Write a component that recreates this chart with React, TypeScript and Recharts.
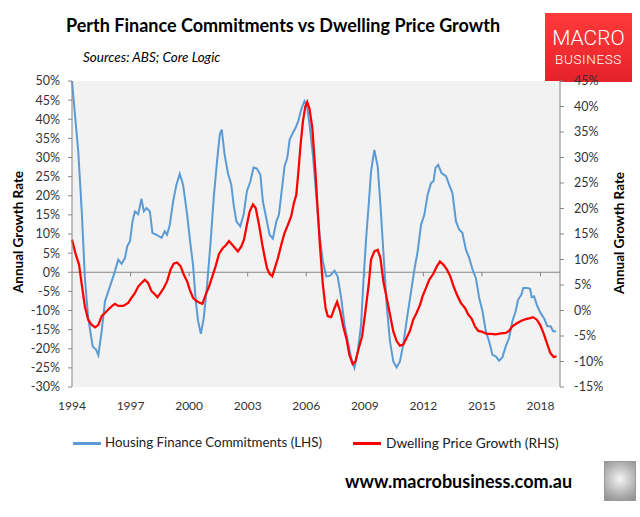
import React from 'react';
import { LineChart, Line, XAxis, YAxis, ReferenceLine, ReferenceArea } from 'recharts';

// Housing finance commitments, annual growth % (left axis)
const financeYears = [
  1994.0, 1994.32, 1994.5, 1994.66, 1994.83, 1995.06, 1995.23, 1995.35, 1995.52, 1995.69, 1995.86,
  1996.03, 1996.2, 1996.37, 1996.54, 1996.71, 1996.83, 1996.97, 1997.1, 1997.22, 1997.39, 1997.56,
  1997.68, 1997.82, 1997.99, 1998.12, 1998.33, 1998.59, 1998.75, 1998.87, 1999.01, 1999.18, 1999.35,
  1999.52, 1999.69, 1999.9, 2000.07, 2000.2, 2000.34, 2000.46, 2000.6, 2000.75, 2000.92, 2001.09,
  2001.26, 2001.43, 2001.57, 2001.67, 2001.82, 2001.99, 2002.16, 2002.28, 2002.42, 2002.62, 2002.79,
  2002.96, 2003.14, 2003.3, 2003.47, 2003.65, 2003.78, 2003.95, 2004.12, 2004.29, 2004.47, 2004.6,
  2004.72, 2004.89, 2005.03, 2005.15, 2005.31, 2005.45, 2005.59, 2005.74, 2005.91, 2006.03, 2006.17,
  2006.34, 2006.51, 2006.68, 2006.85, 2007.02, 2007.23, 2007.45, 2007.61, 2007.79, 2007.96, 2008.13,
  2008.3, 2008.47, 2008.64, 2008.81, 2008.94, 2009.07, 2009.2, 2009.32, 2009.49, 2009.66, 2009.8,
  2009.95, 2010.12, 2010.29, 2010.46, 2010.63, 2010.8, 2010.97, 2011.14, 2011.32, 2011.54, 2011.71,
  2011.88, 2012.05, 2012.22, 2012.39, 2012.52, 2012.62, 2012.76, 2012.93, 2013.16, 2013.32, 2013.49,
  2013.67, 2013.84, 2014.0, 2014.18, 2014.35, 2014.52, 2014.69, 2014.86, 2015.03, 2015.2, 2015.37,
  2015.54, 2015.71, 2015.88, 2016.05, 2016.22, 2016.39, 2016.56, 2016.73, 2016.85, 2017.02, 2017.12,
  2017.33, 2017.47, 2017.55, 2017.67, 2017.84, 2018.01, 2018.18, 2018.35, 2018.52, 2018.65, 2018.8,
];
const financeValues = [
  50, 31.6, 15.9, -1.5, -12.0, -19.4, -20.2, -21.7, -15.4, -7.6, -5.0,
  -2.4, 0.3, 3.3, 2.2, 3.7, 6.8, 8.1, 13.3, 15.9, 15.2, 19.2,
  15.9, 16.8, 15.9, 10.3, 9.8, 9.0, 10.7, 9.8, 12.4, 18.5, 22.9,
  25.7, 22.9, 15.0, 7.2, 2.0, -7.5, -12.8, -16.1, -12.0, -3.3, 7.2,
  19.4, 29.0, 36.0, 37.3, 30.7, 25.9, 22.9, 17.7, 13.3, 12.0, 15.0,
  21.2, 23.8, 27.4, 27.1, 25.5, 18.5, 14.2, 9.8, 8.8, 13.3, 15.0,
  20.3, 27.7, 29.9, 34.7, 36.4, 37.7, 39.5, 42.5, 44.8, 43.8, 38.6,
  30.7, 20.3, 9.8, 2.9, -1.1, -0.9, 0.4, -1.1, -6.7, -13.7, -18.1,
  -22.4, -25.0, -20.7, -13.7, -1.5, 9.0, 17.7, 26.4, 32.0, 27.7, 17.7,
  5.5, -8.5, -18.1, -23.3, -24.9, -23.3, -18.9, -12.8, -6.7, 0.7, 5.5,
  12.4, 15.0, 20.3, 23.3, 23.8, 27.3, 28.1, 25.9, 25.1, 22.9, 20.7,
  13.3, 11.1, 10.3, 5.9, 3.7, 0.7, -1.5, -6.7, -10.2, -15.4, -18.1,
  -21.6, -22.0, -23.1, -22.2, -19.4, -17.2, -12.8, -10.2, -7.2, -5.9, -4.1,
  -4.1, -4.3, -6.5, -6.3, -8.9, -10.7, -12.0, -14.1, -14.1, -15.4, -15.4,
];

// Dwelling price growth, annual % (right axis)
const priceYears = [
  1994.0, 1994.2, 1994.36, 1994.5, 1994.66, 1994.83, 1995.0, 1995.18, 1995.35, 1995.52, 1995.69,
  1995.86, 1996.03, 1996.2, 1996.37, 1996.62, 1996.88, 1997.05, 1997.22, 1997.39, 1997.56, 1997.73,
  1997.9, 1998.07, 1998.24, 1998.38, 1998.53, 1998.7, 1998.87, 1999.05, 1999.21, 1999.38, 1999.56,
  1999.73, 1999.9, 2000.03, 2000.2, 2000.37, 2000.54, 2000.68, 2000.85, 2001.02, 2001.19, 2001.36,
  2001.53, 2001.74, 2001.91, 2002.04, 2002.21, 2002.38, 2002.5, 2002.68, 2002.81, 2002.96, 2003.1,
  2003.27, 2003.41, 2003.58, 2003.75, 2003.88, 2003.99, 2004.12, 2004.26, 2004.39, 2004.55, 2004.72,
  2004.89, 2005.06, 2005.23, 2005.37, 2005.49, 2005.6, 2005.71, 2005.83, 2005.95, 2006.05, 2006.17,
  2006.31, 2006.47, 2006.59, 2006.71, 2006.85, 2006.99, 2007.1, 2007.28, 2007.45, 2007.58, 2007.74,
  2007.91, 2008.07, 2008.21, 2008.38, 2008.52, 2008.69, 2008.86, 2009.03, 2009.2, 2009.32, 2009.49,
  2009.66, 2009.8, 2009.95, 2010.12, 2010.29, 2010.46, 2010.63, 2010.8, 2010.97, 2011.14, 2011.32,
  2011.48, 2011.65, 2011.83, 2011.96, 2012.13, 2012.3, 2012.51, 2012.7, 2012.85, 2013.02, 2013.21,
  2013.38, 2013.55, 2013.72, 2013.92, 2014.13, 2014.3, 2014.47, 2014.64, 2014.81, 2015.03, 2015.25,
  2015.46, 2015.71, 2015.97, 2016.22, 2016.39, 2016.56, 2016.79, 2017.02, 2017.25, 2017.47, 2017.62,
  2017.81, 2017.98, 2018.15, 2018.33, 2018.5, 2018.67, 2018.82,
];
const priceValues = [
  13.9, 10.9, 9.0, 5.1, 0.8, -1.8, -2.8, -3.3, -2.8, -1.1, -0.5,
  0.2, 0.8, 1.3, 0.9, 0.9, 1.5, 2.5, 3.4, 4.7, 5.4, 6.0,
  5.4, 3.8, 3.2, 2.6, 3.4, 4.4, 5.7, 8.0, 9.2, 9.4, 8.7,
  7.0, 5.7, 4.1, 2.5, 1.9, 1.5, 1.3, 3.1, 4.7, 6.7, 8.7,
  11.1, 12.3, 12.9, 13.6, 12.9, 12.1, 11.6, 12.6, 13.9, 16.8, 19.4,
  20.8, 20.1, 16.8, 12.9, 10.3, 8.3, 7.2, 6.7, 8.3, 10.3, 12.9,
  15.2, 16.8, 18.5, 21.1, 22.7, 27.3, 32.5, 37.1, 40.0, 40.9, 39.5,
  35.8, 27.3, 19.5, 12.3, 5.1, 0.5, -1.1, -1.3, 0.5, 1.7, -0.2,
  -3.4, -5.7, -8.7, -10.5, -10.0, -7.4, -5.1, -0.2, 5.1, 10.0, 11.6,
  11.9, 10.3, 5.7, 2.5, -0.8, -4.1, -6.0, -6.9, -6.7, -5.4, -3.9,
  -1.8, -0.5, 1.1, 2.8, 4.4, 6.0, 7.2, 8.7, 9.6, 9.0, 8.0,
  6.7, 4.7, 3.1, 1.5, 0.5, -0.8, -1.6, -3.1, -4.0, -4.2, -4.6,
  -4.6, -4.7, -4.5, -4.4, -4.0, -3.1, -2.5, -2.0, -1.7, -1.5, -1.3,
  -1.8, -2.8, -4.4, -6.4, -8.3, -9.1, -9.0,
];

const yearTicks = [1994, 1997, 2000, 2003, 2006, 2009, 2012, 2015, 2018];
const leftTicks = [-30, -25, -20, -15, -10, -5, 0, 5, 10, 15, 20, 25, 30, 35, 40, 45, 50];
const rightTicks = [-15, -10, -5, 0, 5, 10, 15, 20, 25, 30, 35, 40, 45];

const financeData = financeYears.map((t, i) => ({ t, v: financeValues[i] }));
const priceData = priceYears.map((t, i) => ({ t, v: priceValues[i] }));

const FONT = 'Lato, "DejaVu Sans", sans-serif';
const AXIS = '#868686';
const BLUE = '#5b9bd5';
const RED = '#ff0000';

const pct = (v: number) => `${v}%`;

export default function App() {
  return (
    <div
      style={{
        position: 'absolute',
        left: 0,
        top: 0,
        width: 640,
        height: 517,
        background: '#fff',
        fontFamily: FONT,
        color: '#000',
        overflow: 'hidden',
      }}
    >
      <div style={{ position: 'absolute', left: 66, top: 14, fontSize: 18, fontWeight: 700 }}>
        Perth Finance Commitments vs Dwelling Price Growth
      </div>
      <div style={{ position: 'absolute', left: 83, top: 49, fontSize: 13.5, fontStyle: 'italic' }}>
        Sources: ABS; Core Logic
      </div>

      {/* logo */}
      <div
        style={{
          position: 'absolute',
          left: 545,
          top: 13,
          width: 87,
          height: 69,
          background: 'linear-gradient(180deg, #ff3a3a 0%, #e4232a 100%)',
          color: '#fff',
          textAlign: 'center',
          fontFamily: 'Roboto, sans-serif',
        }}
      >
        <div style={{ marginTop: 14, fontSize: 21, fontWeight: 300, lineHeight: '22px' }}>MACRO</div>
        <div style={{ marginTop: 2, fontSize: 13.5, fontWeight: 300, letterSpacing: 0.6, lineHeight: '16px' }}>
          BUSINESS
        </div>
      </div>

      <LineChart width={640} height={420} margin={{ top: 81, right: 20, bottom: 3, left: 12 }}>
        <XAxis
          xAxisId={0}
          type="number"
          dataKey="t"
          domain={[1994, 2019]}
          ticks={yearTicks}
          interval={0}
          axisLine={false}
          tickLine={false}
          tickMargin={8}
          height={30}
          tick={{ fontSize: 12, fill: '#333', fontFamily: FONT }}
          allowDuplicatedCategory={false}
        />
        <YAxis
          yAxisId="left"
          domain={[-30, 50]}
          ticks={leftTicks}
          interval={0}
          width={60}
          tickFormatter={pct}
          axisLine={{ stroke: AXIS }}
          tickLine={{ stroke: AXIS }}
          tickSize={4}
          tickMargin={8}
          tick={{ fontSize: 12.5, fill: '#333', fontFamily: FONT }}
        />
        <YAxis
          yAxisId="right"
          orientation="right"
          domain={[-15, 45]}
          ticks={rightTicks}
          interval={0}
          width={60}
          tickFormatter={pct}
          axisLine={{ stroke: AXIS }}
          tickLine={{ stroke: AXIS }}
          tickSize={4}
          tickMargin={10}
          tick={{ fontSize: 12.5, fill: '#333', fontFamily: FONT }}
        />
        <ReferenceArea
          yAxisId="left"
          x1={1994}
          x2={2019}
          y1={-30}
          y2={50}
          fill="#f2f2f2"
          fillOpacity={1}
          stroke="none"
        />
        <ReferenceLine yAxisId="left" y={0} stroke={AXIS} strokeWidth={1} />
        {yearTicks.slice(1).map((yr) => (
          <ReferenceLine
            key={yr}
            yAxisId="left"
            segment={[
              { x: yr, y: 0 },
              { x: yr, y: -1.1 },
            ]}
            stroke={AXIS}
            strokeWidth={1}
          />
        ))}
        <Line
          data={financeData}
          dataKey="v"
          yAxisId="left"
          type="linear"
          stroke={BLUE}
          strokeWidth={2}
          dot={false}
          isAnimationActive={false}
        />
        <Line
          data={priceData}
          dataKey="v"
          yAxisId="right"
          type="linear"
          stroke={RED}
          strokeWidth={2.25}
          dot={false}
          isAnimationActive={false}
        />
      </LineChart>

      {/* axis titles */}
      <div
        style={{
          position: 'absolute',
          left: 18,
          top: 232,
          transform: 'translate(-50%, -50%) rotate(-90deg)',
          whiteSpace: 'nowrap',
          fontSize: 13.5,
          fontWeight: 700,
        }}
      >
        Annual Growth Rate
      </div>
      <div
        style={{
          position: 'absolute',
          left: 619,
          top: 233,
          transform: 'translate(-50%, -50%) rotate(-90deg)',
          whiteSpace: 'nowrap',
          fontSize: 13.5,
          fontWeight: 700,
        }}
      >
        Annual Growth Rate
      </div>

      {/* legend */}
      <div style={{ position: 'absolute', left: 73, top: 442, width: 28, height: 2.5, background: BLUE }} />
      <div style={{ position: 'absolute', left: 105, top: 434, fontSize: 13.3, color: '#222' }}>
        Housing Finance Commitments (LHS)
      </div>
      <div style={{ position: 'absolute', left: 353, top: 442, width: 28, height: 2.5, background: RED }} />
      <div style={{ position: 'absolute', left: 386, top: 434, fontSize: 13.7, color: '#222' }}>
        Dwelling Price Growth (RHS)
      </div>

      {/* footer */}
      <div style={{ position: 'absolute', left: 345, top: 470, fontSize: 18, fontWeight: 700 }}>
        www.macrobusiness.com.au
      </div>
      <div
        style={{
          position: 'absolute',
          left: 604,
          top: 461,
          width: 30,
          height: 38,
          border: '1.5px solid #9a9a9a',
          background: 'radial-gradient(circle at 50% 45%, #f4f4f4 0%, #b8b8b8 55%, #8a8a8a 100%)',
        }}
      />
    </div>
  );
}
